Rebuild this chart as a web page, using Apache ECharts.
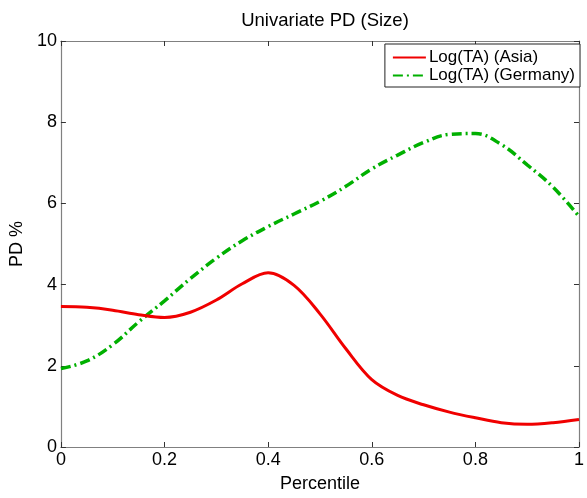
<!DOCTYPE html>
<html><head><meta charset="utf-8">
<script src="https://cdn.jsdelivr.net/npm/echarts@6/dist/echarts.min.js"></script>
<style>html,body{margin:0;padding:0;background:#fff}#c{width:587px;height:498px}</style>
</head><body><div id="c"></div>
<script>
var asiaX = [0, 0.05, 0.1, 0.15, 0.2, 0.25, 0.3, 0.35, 0.4, 0.45, 0.5, 0.55, 0.6, 0.65, 0.7, 0.75, 0.8, 0.85, 0.9, 0.95, 1.0];
var asiaY = [3.46, 3.44, 3.37, 3.26, 3.19, 3.32, 3.62, 4.02, 4.29, 3.98, 3.28, 2.42, 1.66, 1.27, 1.04, 0.86, 0.72, 0.60, 0.56, 0.60, 0.68];
var germX = [0, 0.05, 0.1, 0.15, 0.2, 0.25, 0.3, 0.35, 0.4, 0.45, 0.5, 0.55, 0.6, 0.65, 0.7, 0.75, 0.8, 0.85, 0.9, 0.95, 1.0];
var germY = [1.93, 2.12, 2.52, 3.08, 3.6, 4.15, 4.65, 5.08, 5.43, 5.74, 6.05, 6.42, 6.85, 7.19, 7.5, 7.7, 7.72, 7.45, 6.95, 6.4, 5.68];
var seriesNames = ['Log(TA) (Asia)', 'Log(TA) (Germany)'];
var xTicks = [0, 0.2, 0.4, 0.6, 0.8, 1];
var yTicks = [0, 2, 4, 6, 8, 10];

function pairs(xs, ys) { return xs.map(function (x, i) { return [x, ys[i]]; }); }
var font = 'Liberation Sans, Arial, sans-serif';
var axisLine = { show: true, onZero: false, lineStyle: { color: '#808080', width: 1.2 } };
var tickIn = { show: true, inside: true, length: 5, lineStyle: { color: '#333', width: 1 } };
var lbl = { color: '#000', fontSize: 18, fontFamily: font };

var chart = echarts.init(document.getElementById('c'));
chart.setOption({
  backgroundColor: '#fff',
  animation: false,
  title: { text: 'Univariate PD (Size)', left: 320, textAlign: 'center', top: 6,
    textStyle: { color: '#000', fontSize: 18.5, fontWeight: 'normal', fontFamily: font } },
  grid: { left: 57, right: 4, top: 41, bottom: 43 },
  legend: {
    right: 7, top: 44, orient: 'vertical', itemWidth: 33, itemHeight: 18, itemGap: 1,
    borderColor: '#222', borderWidth: 1, padding: [5, 5, 3, 7], backgroundColor: '#fff',
    itemStyle: { opacity: 0 },
    textStyle: { color: '#000', fontSize: 17, fontFamily: font, padding: [0, 0, 0, -2] },
    data: seriesNames
  },
  xAxis: [
    { type: 'value', min: 0, max: 1, interval: 0.2, position: 'bottom',
      name: 'Percentile', nameLocation: 'middle', nameGap: 28,
      nameTextStyle: { color: '#000', fontSize: 18, fontFamily: font },
      axisLine: axisLine, axisTick: tickIn, splitLine: { show: false },
      axisLabel: Object.assign({ margin: 4, formatter: function (v) { return String(+v.toFixed(1)); } }, lbl) },
    { type: 'value', min: 0, max: 1, interval: 0.2, position: 'top',
      axisLine: axisLine, axisTick: tickIn, splitLine: { show: false }, axisLabel: { show: false } }
  ],
  yAxis: [
    { type: 'value', min: 0, max: 10, interval: 2, position: 'left',
      name: 'PD %', nameLocation: 'middle', nameGap: 28, nameRotate: 90,
      nameTextStyle: { color: '#000', fontSize: 18, fontFamily: font },
      axisLine: axisLine, axisTick: tickIn, splitLine: { show: false },
      axisLabel: Object.assign({ margin: 4 }, lbl) },
    { type: 'value', min: 0, max: 10, interval: 2, position: 'right',
      axisLine: axisLine, axisTick: tickIn, splitLine: { show: false }, axisLabel: { show: false } }
  ],
  series: [
    { name: seriesNames[0], type: 'line', smooth: 0.35, symbol: 'none', data: pairs(asiaX, asiaY),
      lineStyle: { color: '#f00000', width: 3 }, itemStyle: { color: '#f00000' }, z: 3 },
    { name: seriesNames[1], type: 'line', smooth: 0.4, symbol: 'none', data: pairs(germX, germY),
      lineStyle: { color: '#00b000', width: 3.5, type: [10, 4, 2, 4] }, itemStyle: { color: '#00b000' }, z: 2 }
  ]
});
</script></body></html>
